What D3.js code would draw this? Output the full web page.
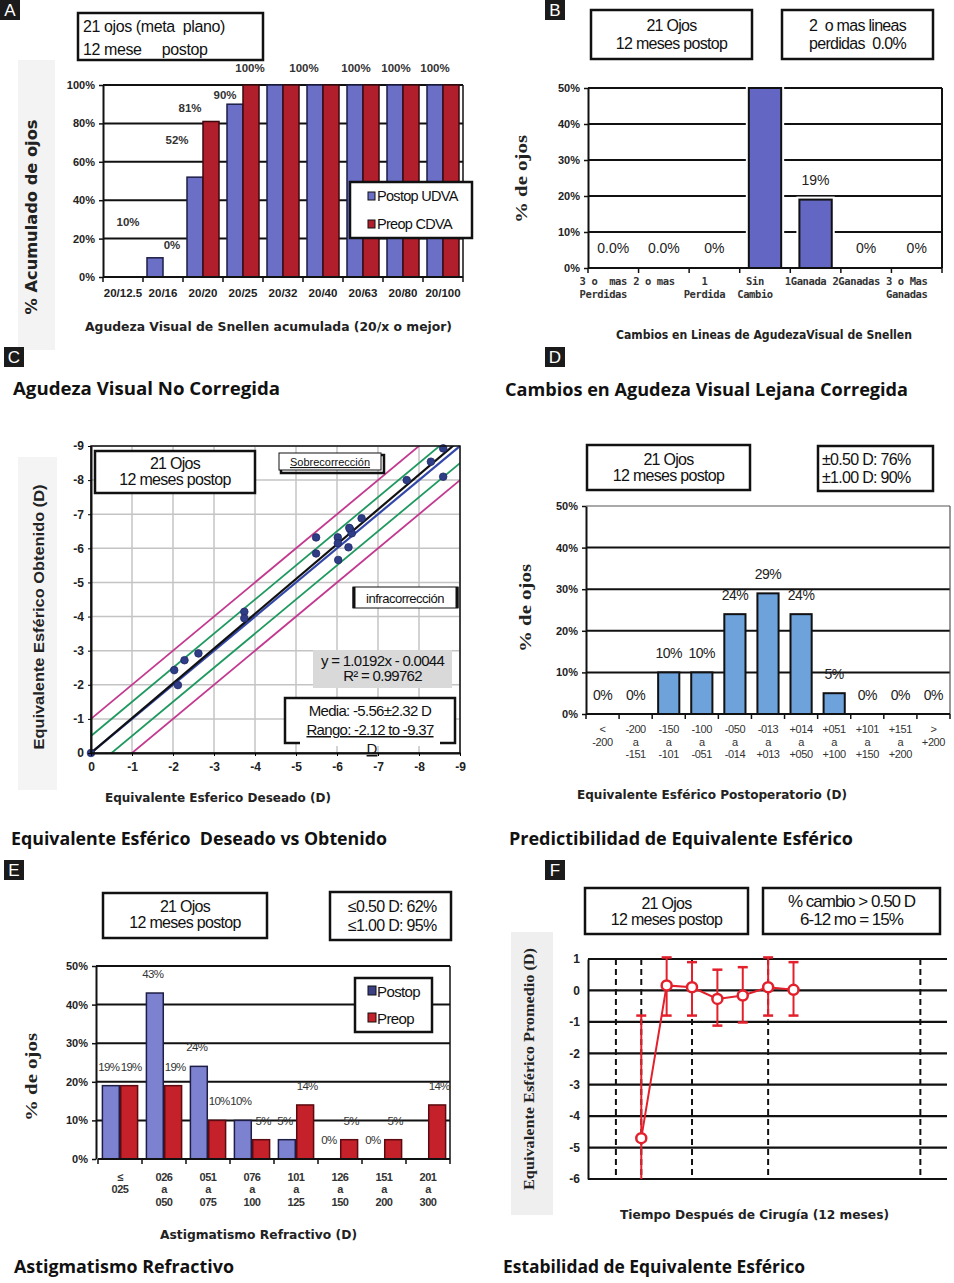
<!DOCTYPE html>
<html lang="es">
<head>
  <meta charset="UTF-8" />
  <title>Resultados a 12 meses</title>
  <script src="https://cdn.jsdelivr.net/npm/d3@7"></script>
  <style>
    body { margin: 0; background: #fff; }
    svg text { white-space: pre; }
  </style>
</head>
<body>
  <svg id="fig" width="954" height="1283"></svg>

  <script>
    // ---- data ----
    // A: agudeza visual no corregida (acumulada)
    const snellenCats = ["20/12.5", "20/16", "20/20", "20/25", "20/32", "20/40", "20/63", "20/80", "20/100"];
    const postopUDVA = [0, 10, 52, 90, 100, 100, 100, 100, 100];
    const preopCDVA = [0, 0, 81, 100, 100, 100, 100, 100, 100];
    const pctTicksA = [0, 20, 40, 60, 80, 100];
    // label text, position in category units, position in % units
    const annotA = [["10%", 0.625, 28.6], ["0%", 1.725, 16.7], ["52%", 1.85, 71.4], ["81%", 2.175, 88],
      ["90%", 3.05, 94.8], ["100%", 3.675, 108.9], ["100%", 5.025, 108.9], ["100%", 6.325, 108.9],
      ["100%", 7.325, 108.9], ["100%", 8.3, 108.9]];

    // B: cambios en lineas de AV corregida
    const linesCats = ["3 o mas perdidas", "2 o mas", "1 perdida", "Sin cambio", "1 ganada", "2 ganadas", "3 o mas ganadas"];
    const linesTickText = [["3 o  mas", "Perdidas"], ["2 o mas"], ["1", "Perdida"], ["Sin", "Cambio"], ["1Ganada"], ["2Ganadas"], ["3 o Mas", "Ganadas"]];
    const linesValues = [0, 0, 0, 81, 19, 0, 0];
    const linesLabels = ["0.0%", "0.0%", "0%", "", "19%", "0%", "0%"];
    const pctTicks50 = [0, 10, 20, 30, 40, 50];

    // C: deseado vs obtenido
    const desiredSE = [0, -2.03, -2.12, -2.28, -2.62, -3.74, -3.74, -5.49, -5.49, -6.02, -6.03, -6.28, -6.32, -6.36, -6.6, -7.7, -8.29, -8.59, -8.59, -6.02, -6.3];
    const obtainedSE = [0, -2.43, -1.99, -2.72, -2.92, -4.14, -3.95, -6.32, -5.85, -6.32, -5.66, -6.03, -6.56, -6.44, -6.88, -8.0, -8.54, -8.93, -8.1, -6.15, -6.6];
    const dioptreTicks = [0, -1, -2, -3, -4, -5, -6, -7, -8, -9];
    const regSlope = 1.0192, regIntercept = -0.0044;

    // D: predictibilidad
    const seCatsText = [["<", "-200"], ["-200", "a", "-151"], ["-150", "a", "-101"], ["-100", "a", "-051"], ["-050", "a", "-014"],
      ["-013", "a", "+013"], ["+014", "a", "+050"], ["+051", "a", "+100"], ["+101", "a", "+150"], ["+151", "a", "+200"], [">", "+200"]];
    const seValues = [0, 0, 10, 10, 24, 29, 24, 5, 0, 0, 0];

    // E: astigmatismo
    const cylCatsText = [["\u2264", "025"], ["026", "a", "050"], ["051", "a", "075"], ["076", "a", "100"], ["101", "a", "125"],
      ["126", "a", "150"], ["151", "a", "200"], ["201", "a", "300"]];
    const cylPostop = [19, 43, 24, 10, 5, 0, 0, 0];
    const cylPreop = [19, 19, 10, 5, 14, 5, 5, 14];

    // F: estabilidad
    const visitIdx = [0, 1, 2, 3, 4, 5, 6];
    const seMean = [-4.7, 0.16, 0.1, -0.27, -0.16, 0.1, 0.02];
    const seLow = [-6.5, -0.8, -0.8, -1.12, -1.02, -0.8, -0.8];
    const seHigh = [-0.8, 1.05, 0.9, 0.66, 0.74, 1.05, 0.9];
    const dashedIdx = [-1, 0, 2, 5, 11];
    const seTicksF = [1, 0, -1, -2, -3, -4, -5, -6];

    // ---- fonts / colours ----
    const FN = '"Liberation Sans Narrow", "Arial Narrow", "Liberation Sans", Arial, sans-serif';
    const FS = '"Liberation Sans", Arial, sans-serif';
    const FB = '"Open Sans", "DejaVu Sans", sans-serif';
    const FV = '"DejaVu Sans", Verdana, sans-serif';
    const FR = '"Liberation Serif", "Times New Roman", serif';
    const FM = '"DejaVu Sans Mono", monospace';
    const BLUE = "#6b6fc6", RED = "#b11f2c";

    const svg = d3.select("#fig");
    svg.append("rect").attr("width", 954).attr("height", 1283).attr("fill", "#fff");

    // ---- helpers ----
    function panelTag(letter, x, y) {
      svg.append("rect").attr("x", x).attr("y", y).attr("width", 20).attr("height", 20).attr("fill", "#1b1b1b");
      svg.append("text").attr("x", x + 10).attr("y", y + 16).attr("text-anchor", "middle")
        .attr("font-family", FS).attr("font-size", 17).attr("fill", "#fff").text(letter);
    }

    function panelTitle(text, x, y, w) {
      svg.append("text").attr("x", x).attr("y", y).attr("font-family", FB).attr("font-weight", 700)
        .attr("font-size", 18).attr("fill", "#111")
        .attr("textLength", w).attr("lengthAdjust", "spacingAndGlyphs").text(text);
    }

    function textBox(x, y, w, h, lines, o = {}) {
      const g = svg.append("g");
      g.append("rect").attr("x", x).attr("y", y).attr("width", w).attr("height", h)
        .attr("fill", o.fill || "#fff").attr("stroke", o.stroke || "#111").attr("stroke-width", o.sw || 2.5);
      lines.forEach((ln, i) => {
        g.append("text")
          .attr("x", o.anchor === "start" ? x + (o.pad || 6) : x + w / 2)
          .attr("y", y + o.first + i * o.lh)
          .attr("text-anchor", o.anchor || "middle")
          .attr("font-family", o.font || FN).attr("font-size", o.size || 16)
          .attr("letter-spacing", o.ls !== undefined ? o.ls : -0.7)
          .attr("font-weight", o.weight || "normal").attr("fill", "#111")
          .text(ln);
      });
      return g;
    }

    function hGrid(y, vals, x0, x1, color, width) {
      svg.append("g").selectAll("line").data(vals).join("line")
        .attr("x1", x0).attr("x2", x1).attr("y1", d => y(d)).attr("y2", d => y(d))
        .attr("stroke", color || "#111").attr("stroke-width", width || 2);
    }

    function pctAxis(y, vals, x, fmt, size) {
      const g = svg.append("g").attr("transform", `translate(${x},0)`)
        .call(d3.axisLeft(y).tickValues(vals).tickFormat(fmt || (d => d + "%")).tickSize(4).tickSizeOuter(0).tickPadding(4));
      g.select(".domain").attr("stroke", "#111").attr("stroke-width", 2);
      g.selectAll(".tick line").attr("stroke", "#111").attr("stroke-width", 1.5);
      g.selectAll("text").attr("font-family", FS).attr("font-weight", "bold")
        .attr("font-size", size || 11).attr("fill", "#222");
      return g;
    }

    function bottomTicks(x, n, y0) {
      const step = x.step(), start = x.range()[0];
      svg.append("g").selectAll("line").data(d3.range(n + 1)).join("line")
        .attr("x1", i => start + i * step).attr("x2", i => start + i * step)
        .attr("y1", y0).attr("y2", y0 + 5).attr("stroke", "#111").attr("stroke-width", 1.5);
      svg.append("line").attr("x1", x.range()[0]).attr("x2", x.range()[1]).attr("y1", y0).attr("y2", y0)
        .attr("stroke", "#111").attr("stroke-width", 2);
    }

    function vTitle(text, cx, cy, font, size, w, weight) {
      svg.append("text").attr("transform", `translate(${cx},${cy}) rotate(-90)`)
        .attr("text-anchor", "middle").attr("dominant-baseline", "middle")
        .attr("font-family", font).attr("font-size", size).attr("font-weight", weight || "bold").attr("fill", "#222")
        .attr("textLength", w).attr("lengthAdjust", "spacingAndGlyphs").text(text);
    }

    function hTitle(text, x, y, w, size) {
      svg.append("text").attr("x", x).attr("y", y).attr("font-family", FV).attr("font-weight", "bold")
        .attr("font-size", size || 12).attr("fill", "#222")
        .attr("textLength", w).attr("lengthAdjust", "spacingAndGlyphs").text(text);
    }

    function multiLineTicks(x, texts, ys, font, size, dx, weight) {
      texts.forEach((lines, i) => {
        const cx = x(x.domain()[i]) + x.bandwidth() / 2 + (dx || 0);
        lines.forEach((ln, j) => {
          svg.append("text").attr("x", cx).attr("y", ys[j]).attr("text-anchor", "middle")
            .attr("font-family", font).attr("font-size", size).attr("font-weight", weight || "bold").attr("fill", "#333")
            .attr("letter-spacing", -0.4)
            .text(ln);
        });
      });
    }

    // ================= Panel A =================
    panelTag("A", 0, 0);
    svg.append("rect").attr("x", 18).attr("y", 60).attr("width", 37).attr("height", 290).attr("fill", "#f3f3f3");
    textBox(78, 13, 185, 47, ["21 ojos (meta  plano)", "12 mese     postop"],
      { anchor: "start", pad: 5, first: 19, lh: 23, size: 16, ls: -0.4 });

    const xA = d3.scaleBand().domain(snellenCats).range([103, 463]).paddingInner(0.2).paddingOuter(0.1);
    const sA = d3.scaleBand().domain(["post", "pre"]).range([0, xA.bandwidth()]);
    const yA = d3.scaleLinear().domain([0, 100]).range([277, 85]);

    hGrid(yA, pctTicksA.slice(1), 103, 463);
    svg.append("line").attr("x1", 463).attr("x2", 463).attr("y1", 85).attr("y2", 277).attr("stroke", "#111").attr("stroke-width", 1.5);

    const barsA = [["post", postopUDVA, BLUE, "#1d1d45"], ["pre", preopCDVA, RED, "#3a0a0e"]];
    barsA.forEach(([key, vals, fill, stroke]) => {
      svg.append("g").selectAll("rect").data(vals).join("rect")
        .attr("x", (d, i) => xA(snellenCats[i]) + sA(key))
        .attr("width", sA.bandwidth())
        .attr("y", d => yA(d)).attr("height", d => yA(0) - yA(d))
        .attr("fill", fill).attr("stroke", stroke).attr("stroke-width", 1.5);
    });
    bottomTicks(xA, snellenCats.length, 277);
    pctAxis(yA, pctTicksA, 103);

    svg.append("g").selectAll("text").data(snellenCats).join("text")
      .attr("x", d => xA(d) + xA.bandwidth() / 2).attr("y", 297).attr("text-anchor", "middle")
      .attr("font-family", FS).attr("font-weight", "bold").attr("font-size", 11.5).attr("fill", "#222").text(d => d);

    svg.append("g").selectAll("text").data(annotA).join("text")
      .attr("x", d => xA.range()[0] + d[1] * xA.step()).attr("y", d => yA(d[2]) + 4)
      .attr("text-anchor", "middle").attr("font-family", FS).attr("font-weight", "bold")
      .attr("font-size", 11.5).attr("fill", "#333").text(d => d[0]);

    // legend A
    svg.append("rect").attr("x", 350).attr("y", 182).attr("width", 122).attr("height", 56)
      .attr("fill", "#fff").attr("stroke", "#111").attr("stroke-width", 2.5);
    [["Postop UDVA", BLUE], ["Preop CDVA", RED]].forEach(([t, c], i) => {
      svg.append("rect").attr("x", 368).attr("y", 192 + i * 28).attr("width", 7).attr("height", 8)
        .attr("fill", c).attr("stroke", "#111").attr("stroke-width", 1);
      svg.append("text").attr("x", 377).attr("y", 201 + i * 28).attr("font-family", FN).attr("font-size", 14.5)
        .attr("letter-spacing", -0.7).attr("fill", "#111").text(t);
    });

    vTitle("% Acumulado de ojos", 32, 217, FV, 16, 195);
    hTitle("Agudeza Visual de Snellen acumulada (20/x o mejor)", 85, 331, 367, 13);

    // ================= Panel B =================
    panelTag("B", 545, 0);
    textBox(591, 10, 161, 49, ["21 Ojos", "12 meses postop"], { first: 21, lh: 18, size: 16 });
    textBox(782, 10, 151, 49, ["2  o mas lineas", "perdidas  0.0%"], { first: 21, lh: 18, size: 16 });

    const xB = d3.scaleBand().domain(linesCats).range([588, 942]).paddingInner(0.36).paddingOuter(0.18);
    const yB = d3.scaleLinear().domain([0, 50]).range([268, 88]).clamp(true);

    hGrid(yB, pctTicks50.slice(1), 588, 942);
    svg.append("line").attr("x1", 942).attr("x2", 942).attr("y1", 88).attr("y2", 268).attr("stroke", "#111").attr("stroke-width", 2);

    const gB = svg.append("g");
    gB.selectAll("rect.halo").data(linesValues).join("rect").attr("class", "halo")
      .attr("x", (d, i) => xB(linesCats[i])).attr("width", xB.bandwidth())
      .attr("y", d => yB(d)).attr("height", d => yB(0) - yB(d))
      .attr("fill", "none").attr("stroke", d => d > 0 ? "#fff" : "none").attr("stroke-width", 6);
    gB.selectAll("rect.bar").data(linesValues).join("rect").attr("class", "bar")
      .attr("x", (d, i) => xB(linesCats[i])).attr("width", xB.bandwidth())
      .attr("y", d => yB(d)).attr("height", d => yB(0) - yB(d))
      .attr("fill", d => d > 0 ? "#6366c2" : "none").attr("stroke", d => d > 0 ? "#111" : "none").attr("stroke-width", 2);
    bottomTicks(xB, linesCats.length, 268);
    pctAxis(yB, pctTicks50, 588);

    svg.append("g").selectAll("text").data(linesLabels).join("text")
      .attr("x", (d, i) => xB(linesCats[i]) + xB.bandwidth() / 2)
      .attr("y", (d, i) => yB(linesValues[i]) - 15)
      .attr("text-anchor", "middle").attr("font-family", FS).attr("font-size", 14).attr("fill", "#222").text(d => d);

    multiLineTicks(xB, linesTickText, [285, 298], FM, 10.5, -10);

    vTitle("% de ojos", 523, 179, FR, 16, 88);
    hTitle("Cambios en Lineas de AgudezaVisual de Snellen", 616, 339, 296, 12);

    // ================= titles row 1 =================
    panelTag("C", 4, 347);
    panelTag("D", 545, 347);
    panelTitle("Agudeza Visual No Corregida", 13, 395, 267);
    panelTitle("Cambios en Agudeza Visual Lejana Corregida", 505, 396, 403);

    // ================= Panel C =================
    svg.append("rect").attr("x", 18).attr("y", 457).attr("width", 39).attr("height", 333).attr("fill", "#f4f4f4");
    const xC = d3.scaleLinear().domain([0, -9]).range([91, 460]);
    const yC = d3.scaleLinear().domain([0, -9]).range([753, 446]);

    const gridC = svg.append("g");
    gridC.selectAll("line.v").data(dioptreTicks).join("line").attr("class", "v")
      .attr("x1", d => xC(d)).attr("x2", d => xC(d)).attr("y1", 446).attr("y2", 753)
      .attr("stroke", "#c4c4c4").attr("stroke-width", 1.5);
    gridC.selectAll("line.h").data(dioptreTicks).join("line").attr("class", "h")
      .attr("x1", 91).attr("x2", 460).attr("y1", d => yC(d)).attr("y2", d => yC(d))
      .attr("stroke", "#c4c4c4").attr("stroke-width", 1.5);

    svg.append("clipPath").attr("id", "clipC").append("rect")
      .attr("x", 91).attr("y", 446).attr("width", 369).attr("height", 307);

    const refLines = [[1, -1, "#c2398f", 1.8], [1, 1, "#c2398f", 1.8], [1, -0.5, "#1f9960", 1.8], [1, 0.5, "#1f9960", 1.8],
      [1, 0, "#3347a8", 2.2], [regSlope, regIntercept, "#111", 2.2]];
    const gLines = svg.append("g").attr("clip-path", "url(#clipC)");
    refLines.forEach(([m, b, c, w]) => {
      gLines.append("line").attr("x1", xC(0)).attr("y1", yC(b)).attr("x2", xC(-10)).attr("y2", yC(-10 * m + b))
        .attr("stroke", c).attr("stroke-width", w);
    });

    svg.append("g").selectAll("circle").data(desiredSE).join("circle")
      .attr("cx", d => xC(d)).attr("cy", (d, i) => yC(obtainedSE[i])).attr("r", 3.8)
      .attr("fill", "#2e3d86").attr("stroke", "#1f2a66").attr("stroke-width", 0.8);

    svg.append("rect").attr("x", 91).attr("y", 446).attr("width", 369).attr("height", 307)
      .attr("fill", "none").attr("stroke", "#111").attr("stroke-width", 1.5);

    const axCy = svg.append("g").attr("transform", "translate(91,0)")
      .call(d3.axisLeft(yC).tickValues(dioptreTicks).tickFormat(d => String(d)).tickSize(3).tickSizeOuter(0).tickPadding(4));
    const axCx = svg.append("g").attr("transform", "translate(0,753)")
      .call(d3.axisBottom(xC).tickValues(dioptreTicks).tickFormat(d => String(d)).tickSize(3).tickSizeOuter(0).tickPadding(6));
    [axCy, axCx].forEach(g => {
      g.select(".domain").attr("stroke", "#111").attr("stroke-width", 2);
      g.selectAll("text").attr("font-family", FS).attr("font-weight", "bold").attr("font-size", 12).attr("fill", "#222");
    });

    textBox(95, 451, 160, 42, ["21 Ojos", "12 meses postop"], { first: 18, lh: 16, size: 16, font: FS });
    svg.append("rect").attr("x", 281).attr("y", 455).attr("width", 103).attr("height", 18)
      .attr("fill", "none").attr("stroke", "#111").attr("stroke-width", 2.5);
    textBox(279, 453, 102, 17, ["Sobrecorrección"], { first: 13, lh: 0, size: 11, font: FS, sw: 1, ls: 0 })
      .select("text").attr("text-decoration", "underline");
    svg.append("rect").attr("x", 353).attr("y", 587).attr("width", 105).attr("height", 21)
      .attr("fill", "#fff").attr("stroke", "#111").attr("stroke-width", 1);
    svg.append("line").attr("x1", 354).attr("x2", 354).attr("y1", 587).attr("y2", 608).attr("stroke", "#111").attr("stroke-width", 3);
    svg.append("line").attr("x1", 457).attr("x2", 457).attr("y1", 587).attr("y2", 608).attr("stroke", "#111").attr("stroke-width", 3);
    svg.append("text").attr("x", 405).attr("y", 603).attr("text-anchor", "middle").attr("font-family", FN)
      .attr("font-size", 13).attr("letter-spacing", -0.5).attr("fill", "#111").text("infracorrección");

    textBox(313, 650, 139, 38, [`y = ${regSlope}x - ${Math.abs(regIntercept)}`, "R\u00b2 = 0.99762"],
      { first: 16, lh: 15, size: 15, fill: "#d9d9d9", stroke: "none", sw: 0 });
    const mBox = textBox(285, 698, 170, 45, ["Media: -5.56\u00b12.32 D", "Rango: -2.12 to -9.37"], { first: 18, lh: 19, size: 15 });
    mBox.selectAll("text").filter((d, i) => i === 1).attr("text-decoration", "underline");
    svg.append("rect").attr("x", 300).attr("y", 740).attr("width", 140).attr("height", 6).attr("fill", "#fff");
    svg.append("text").attr("x", 372).attr("y", 754).attr("text-anchor", "middle").attr("font-family", FN)
      .attr("font-size", 15).attr("text-decoration", "underline").attr("fill", "#111").text("D");

    vTitle("Equivalente Esférico Obtenido (D)", 40, 617, FS, 14, 265);
    hTitle("Equivalente Esferico Deseado (D)", 105, 802, 226, 13);

    // ================= Panel D =================
    textBox(587, 445, 163, 45, ["21 Ojos", "12 meses postop"], { first: 20, lh: 16, size: 16, font: FS });
    textBox(818, 446, 115, 45, ["\u00b10.50 D: 76%", "\u00b11.00 D: 90%"], { anchor: "start", pad: 4, first: 19, lh: 18, size: 16 });

    const xD = d3.scaleBand().domain(d3.range(seValues.length)).range([586, 950]).paddingInner(0.36).paddingOuter(0.18);
    const yD = d3.scaleLinear().domain([0, 50]).range([714, 506]);
    hGrid(yD, pctTicks50.slice(1, 5), 586, 950);
    hGrid(yD, [50], 586, 950, "#555", 1.2);
    svg.append("line").attr("x1", 950).attr("x2", 950).attr("y1", 506).attr("y2", 714).attr("stroke", "#555").attr("stroke-width", 1.2);

    svg.append("g").selectAll("rect").data(seValues).join("rect")
      .attr("x", (d, i) => xD(i)).attr("width", xD.bandwidth())
      .attr("y", d => yD(d)).attr("height", d => yD(0) - yD(d))
      .attr("fill", d => d > 0 ? "#6ea2da" : "none").attr("stroke", d => d > 0 ? "#111" : "none").attr("stroke-width", 2);
    bottomTicks(xD, seValues.length, 714);
    pctAxis(yD, pctTicks50, 586);

    svg.append("g").selectAll("text").data(seValues).join("text")
      .attr("x", (d, i) => xD(i) + xD.bandwidth() / 2).attr("y", d => yD(d) - 14)
      .attr("text-anchor", "middle").attr("font-family", FN).attr("font-size", 14).attr("letter-spacing", -0.5)
      .attr("fill", "#222").text(d => d + "%");

    multiLineTicks(xD, seCatsText, [733, 746, 758], FN, 11, 0, "normal");

    vTitle("% de ojos", 527, 608, FR, 16, 88);
    hTitle("Equivalente Esférico Postoperatorio (D)", 577, 799, 270, 12);

    // ================= titles row 2 =================
    panelTitle("Equivalente Esférico  Deseado vs Obtenido", 11, 845, 376);
    panelTitle("Predictibilidad de Equivalente Esférico", 509, 845, 344);
    panelTag("E", 4, 860);
    panelTag("F", 545, 860);

    // ================= Panel E =================
    textBox(103, 893, 164, 45, ["21 Ojos", "12 meses postop"], { first: 19, lh: 16, size: 16, font: FS });
    textBox(330, 892, 121, 48, ["\u22640.50 D: 62%", "\u22641.00 D: 95%"], { anchor: "start", pad: 18, first: 20, lh: 19, size: 16 });

    const xE = d3.scaleBand().domain(d3.range(cylPostop.length)).range([98, 450]).paddingInner(0.2).paddingOuter(0.1);
    const sE = d3.scaleBand().domain(["post", "pre"]).range([0, xE.bandwidth()]).paddingInner(0.08);
    const yE = d3.scaleLinear().domain([0, 50]).range([1159, 966]);
    hGrid(yE, pctTicks50.slice(1), 96, 450);
    svg.append("line").attr("x1", 450).attr("x2", 450).attr("y1", 966).attr("y2", 1159).attr("stroke", "#111").attr("stroke-width", 1.5);

    const seriesE = [["post", cylPostop, "#7c82cf", "#1d1d45", -2], ["pre", cylPreop, "#c5212b", "#5a0a10", 2]];
    seriesE.forEach(([key, vals, fill, stroke]) => {
      svg.append("g").selectAll("rect").data(vals).join("rect")
        .attr("x", (d, i) => xE(i) + sE(key)).attr("width", sE.bandwidth())
        .attr("y", d => yE(d)).attr("height", d => yE(0) - yE(d))
        .attr("fill", d => d > 0 ? fill : "none").attr("stroke", d => d > 0 ? stroke : "none").attr("stroke-width", 1.5);
    });
    seriesE.forEach(([key, vals, , , nudge]) => {
      svg.append("g").selectAll("text").data(vals.slice(0, key === "post" ? vals.length - 1 : vals.length)).join("text")
        .attr("x", (d, i) => xE(i) + sE(key) + sE.bandwidth() / 2 + nudge).attr("y", d => yE(d) - 15)
        .attr("text-anchor", "middle").attr("font-family", FN).attr("font-size", 11.5).attr("letter-spacing", -0.7)
        .attr("fill", "#333").text(d => d + "%");
    });
    bottomTicks(xE, cylPostop.length, 1159);
    pctAxis(yE, pctTicks50, 96);

    multiLineTicks(xE, cylCatsText, [1181, 1193, 1206], FN, 11, 0);

    svg.append("rect").attr("x", 355).attr("y", 978).attr("width", 77).attr("height", 54)
      .attr("fill", "#fff").attr("stroke", "#111").attr("stroke-width", 2.5);
    [["Postop", "#3a3f86"], ["Preop", "#c5212b"]].forEach(([t, c], i) => {
      svg.append("rect").attr("x", 368).attr("y", 986 + i * 27).attr("width", 8).attr("height", 9)
        .attr("fill", c).attr("stroke", "#111").attr("stroke-width", 1);
      svg.append("text").attr("x", 377).attr("y", 997 + i * 27).attr("font-family", FN).attr("font-size", 15)
        .attr("letter-spacing", -0.6).attr("fill", "#111").text(t);
    });

    vTitle("% de ojos", 33, 1077, FR, 16, 88);
    hTitle("Astigmatismo Refractivo (D)", 160, 1239, 197, 12);

    // ================= Panel F =================
    textBox(585, 888, 163, 46, ["21 Ojos", "12 meses postop"], { first: 21, lh: 16, size: 16, font: FS });
    textBox(763, 888, 177, 46, ["% cambio > 0.50 D", "6-12 mo = 15%"], { first: 19, lh: 18, size: 17, ls: -1 });

    svg.append("rect").attr("x", 511).attr("y", 932).attr("width", 42).attr("height", 283).attr("fill", "#efefef");
    const xF = d3.scaleLinear().domain([-2.1, 12.05]).range([588, 947]);
    const yF = d3.scaleLinear().domain([-6, 1]).range([1179, 959]);

    hGrid(yF, seTicksF, 588, 947, "#111", 2.2);
    svg.append("g").selectAll("line").data(dashedIdx).join("line")
      .attr("x1", d => xF(d)).attr("x2", d => xF(d)).attr("y1", 959).attr("y2", 1179)
      .attr("stroke", "#111").attr("stroke-width", 2).attr("stroke-dasharray", "6,4");

    const axF = svg.append("g").attr("transform", "translate(588,0)")
      .call(d3.axisLeft(yF).tickValues(seTicksF).tickFormat(d => String(d)).tickSize(0).tickSizeOuter(0).tickPadding(8));
    axF.select(".domain").attr("stroke", "#111").attr("stroke-width", 2);
    axF.selectAll("text").attr("font-family", FS).attr("font-weight", "bold").attr("font-size", 12).attr("fill", "#222");

    svg.append("clipPath").attr("id", "clipF").append("rect")
      .attr("x", 588).attr("y", 950).attr("width", 360).attr("height", 229);
    const gF = svg.append("g").attr("clip-path", "url(#clipF)");
    const RED_F = "#e3202b";
    gF.selectAll("line.err").data(visitIdx).join("line").attr("class", "err")
      .attr("x1", d => xF(d)).attr("x2", d => xF(d)).attr("y1", (d, i) => yF(seLow[i])).attr("y2", (d, i) => yF(seHigh[i]))
      .attr("stroke", RED_F).attr("stroke-width", 2);
    [seLow, seHigh].forEach(arr => {
      gF.append("g").selectAll("line").data(visitIdx).join("line")
        .attr("x1", d => xF(d) - 5).attr("x2", d => xF(d) + 5)
        .attr("y1", (d, i) => yF(arr[i])).attr("y2", (d, i) => yF(arr[i]))
        .attr("stroke", RED_F).attr("stroke-width", 2.5);
    });
    gF.append("path").datum(visitIdx)
      .attr("d", d3.line().x(d => xF(d)).y((d, i) => yF(seMean[i])))
      .attr("fill", "none").attr("stroke", RED_F).attr("stroke-width", 2);
    gF.selectAll("circle").data(visitIdx).join("circle")
      .attr("cx", d => xF(d)).attr("cy", (d, i) => yF(seMean[i])).attr("r", 5)
      .attr("fill", "#fff").attr("stroke", RED_F).attr("stroke-width", 2.5);

    vTitle("Equivalente Esférico Promedio (D)", 531, 1069, FR, 15, 242);
    hTitle("Tiempo Después de Cirugía (12 meses)", 620, 1219, 269, 12.5);

    // ================= titles row 3 =================
    panelTitle("Astigmatismo Refractivo", 14, 1273, 220);
    panelTitle("Estabilidad de Equivalente Esférico", 503, 1273, 302);
  </script>
</body>
</html>
